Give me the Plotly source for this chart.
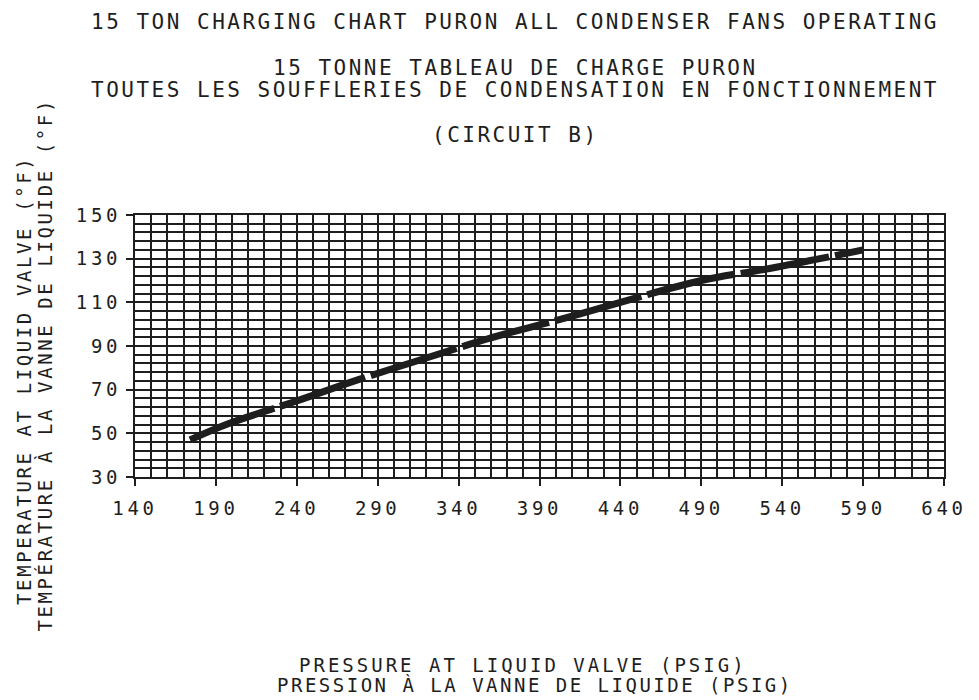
import plotly.graph_objects as go

pressure = [174, 198, 239, 279, 320, 360, 400, 440, 490, 533, 590]
temperature = [47, 54.5, 64.6, 74.8, 84.5, 93.7, 101.6, 110, 120, 125.6, 134]

x_ticks = [140, 190, 240, 290, 340, 390, 440, 490, 540, 590, 640]
y_ticks = [30, 50, 70, 90, 110, 130, 150]

title_lines = ["15 TON CHARGING CHART PURON ALL CONDENSER FANS OPERATING",
               "15 TONNE TABLEAU DE CHARGE PURON",
               "TOUTES LES SOUFFLERIES DE CONDENSATION EN FONCTIONNEMENT",
               "(CIRCUIT B)"]
x_title = ["PRESSURE AT LIQUID VALVE (PSIG)", "PRESSION À LA VANNE DE LIQUIDE (PSIG)"]
y_title = ["TEMPERATURE AT LIQUID VALVE (°F)", "TEMPÉRATURE À LA VANNE DE LIQUIDE (°F)"]

FONT = "DejaVu Sans Mono"
INK = "#1e1e1e"

def sp(t, ls):
    return f'<span style="letter-spacing:{ls}px">{t}</span>'

fig = go.Figure()
fig.add_trace(go.Scatter(x=pressure, y=temperature, mode="lines",
                         line=dict(color=INK, width=7, dash="90px,6px", shape="spline"),
                         hoverinfo="skip", showlegend=False))

grid = dict(showgrid=True, gridcolor=INK, gridwidth=2, zeroline=False,
            showline=True, linecolor=INK, linewidth=2, mirror=True,
            ticks="outside", ticklen=7, tickwidth=2, tickcolor=INK,
            ticklabeloverflow="allow")

fig.update_xaxes(range=[140, 640], tickmode="array", tickvals=x_ticks,
                 ticktext=[sp(str(v), 3.7) for v in x_ticks],
                 minor=dict(dtick=10, tick0=140, showgrid=True, gridcolor=INK, gridwidth=2),
                 tickfont=dict(family=FONT, size=19, color=INK), ticklabelstandoff=6, **grid)
fig.update_yaxes(range=[30, 150], tickmode="array", tickvals=y_ticks,
                 ticktext=[sp(str(v), 3.7) for v in y_ticks],
                 minor=dict(dtick=4, tick0=30, showgrid=True, gridcolor=INK, gridwidth=2),
                 tickfont=dict(family=FONT, size=19, color=INK), ticklabelstandoff=1, **grid)

ann = []
for t, yy in zip(title_lines, [22, 68, 90, 135]):
    ann.append(dict(text=sp(t, 2.5), x=522, y=yy, size=21, angle=0))
for t, xx, yy, ls in zip(x_title, [530, 542], [665, 685], [3.0, 2.5]):
    ann.append(dict(text=sp(t, ls), x=xx, y=yy, size=19, angle=0))
for t, xx, yy in zip(y_title, [22, 43], [380, 365]):
    ann.append(dict(text=sp(t, 2.6), x=xx, y=yy, size=19, angle=-90))

# convert pixel positions to paper coords
L, R, T, B = 135, 21, 215, 223
W, H = 979 - L - R, 700 - T - B
annotations = []
for a in ann:
    annotations.append(dict(text=a["text"], xref="paper", yref="paper",
                            x=(a["x"] - L) / W, y=(700 - a["y"] - B) / H,
                            showarrow=False, textangle=a["angle"],
                            font=dict(family=FONT, size=a["size"], color=INK),
                            xanchor="center", yanchor="middle"))

fig.update_layout(width=979, height=700, margin=dict(l=L, r=R, t=T, b=B),
                  plot_bgcolor="white", paper_bgcolor="white", annotations=annotations,
                  font=dict(family=FONT, color=INK))
fig.write_html("out.html", config={"displayModeBar": False, "responsive": False},
               post_script="document.documentElement.style.overflow='hidden';"
                           "document.body.style.overflow='hidden';"
                           "document.body.style.margin='0';")
